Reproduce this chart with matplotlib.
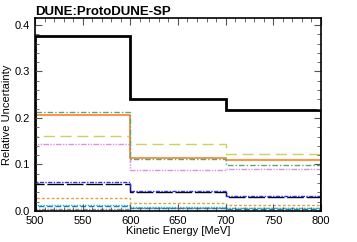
import matplotlib
matplotlib.use("Agg")
import matplotlib.pyplot as plt
from matplotlib.ticker import MultipleLocator

plt.rcParams['font.family'] = ['Liberation Sans', 'DejaVu Sans']

edges = [500, 600, 700, 800]
total = [0.377, 0.241, 0.217]
green_dd = [0.212, 0.112, 0.098]
orange = [0.207, 0.113, 0.110]
olive = [0.161, 0.144, 0.122]
pink = [0.143, 0.088, 0.091]
blue_dd = [0.063, 0.044, 0.033]
black_dash = [0.057, 0.041, 0.030]
orange_dot = [0.029, 0.018, 0.012]
cyan_dot = [0.0135, 0.008, 0.006]
blue_dash = [0.010, 0.006, 0.005]
gray_dd = [0.004, 0.007, 0.007]

fig = plt.figure(figsize=(3.57, 2.42), dpi=100)
ax = fig.add_axes([0.098, 0.128, 0.801, 0.798])

ax.stairs(gray_dd, edges, color='#8c8c8c', lw=1.0, ls=(0, (3, 1, 1, 1)))
ax.stairs(blue_dash, edges, color='#1f77b4', lw=1.0, ls=(0, (4, 2)))
ax.stairs(cyan_dot, edges, color='#17becf', lw=1.0, ls=(0, (1, 1)))
ax.stairs(orange_dot, edges, color='#e0a040', lw=1.0, ls=(0, (2, 1.5)))
ax.stairs(black_dash, edges, color='black', lw=1.0, ls=(0, (12, 2)))
ax.stairs(blue_dd, edges, color='#3030ee', lw=1.0, ls=(0, (3, 1, 1, 1)))
ax.stairs(pink, edges, color='#e08fe0', lw=1.0, ls=(0, (4, 1, 1, 1, 1, 1)))
ax.stairs(olive, edges, color='#d0d060', lw=1.0, ls=(0, (8, 4)))
ax.stairs(orange, edges, color='#ff7f2a', lw=1.2, ls='-')
ax.stairs(green_dd, edges, color='#55aa77', lw=1.0, ls=(0, (4, 1.5, 1, 1.5)))
ax.stairs(total, edges, color='black', lw=2.0, ls='-')

ax.set_xlim(500, 800)
ax.set_ylim(0, 0.415)
ax.xaxis.set_major_locator(MultipleLocator(50))
ax.xaxis.set_minor_locator(MultipleLocator(10))
ax.yaxis.set_major_locator(MultipleLocator(0.1))
ax.yaxis.set_minor_locator(MultipleLocator(0.02))
ax.tick_params(which='both', direction='in', top=True, right=True, labelsize=8,
               color='#555555')
ax.tick_params(which='major', length=5, width=0.8)
ax.tick_params(which='minor', length=3, width=0.6)
for s in ax.spines.values():
    s.set_linewidth(1.2)

ax.set_xlabel('Kinetic Energy [MeV]', fontsize=8, labelpad=0)
ax.set_ylabel('Relative Uncertainty', fontsize=8, labelpad=2)
ax.set_title('DUNE:ProtoDUNE-SP', fontsize=9.5, fontweight='bold', loc='left', pad=2)

fig.savefig('out.png', dpi=100)
